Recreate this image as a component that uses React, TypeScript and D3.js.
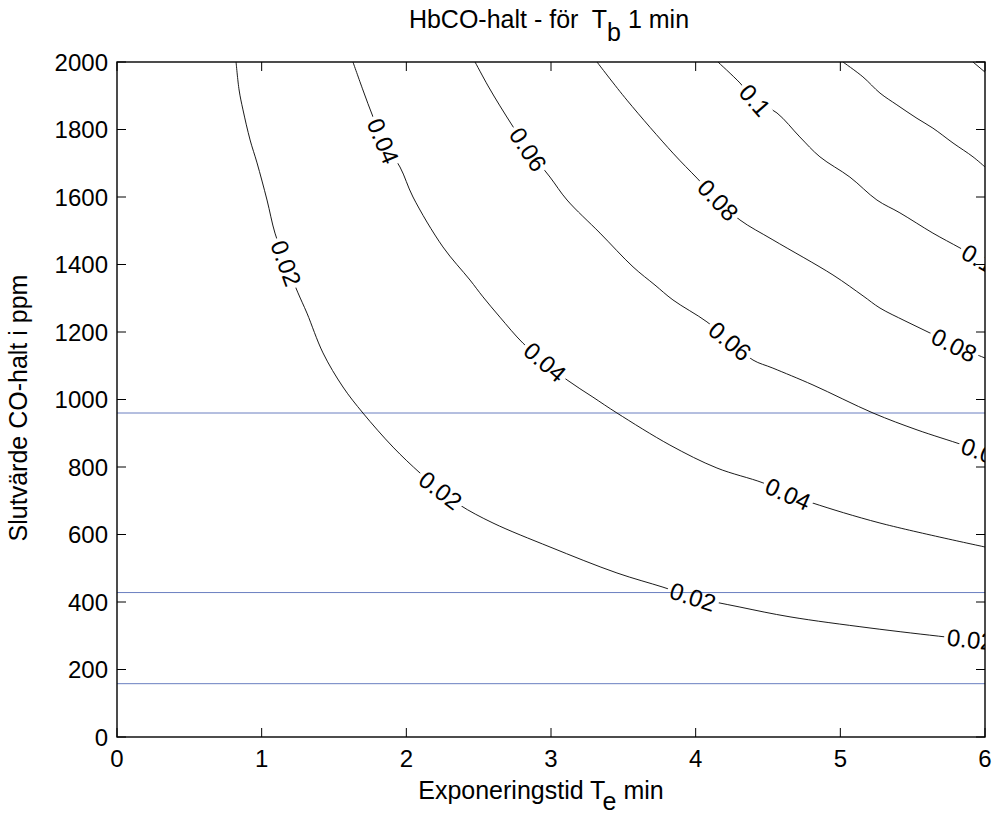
import React from 'react';
import * as d3 from 'd3';

type Pt = [number, number];

// Axis ticks
const xTickValues = [0, 1, 2, 3, 4, 5, 6];
const yTickValues = [0, 200, 400, 600, 800, 1000, 1200, 1400, 1600, 1800, 2000];

// Contour levels (HbCO fraction)
const levels = [0.02, 0.04, 0.06, 0.08, 0.1, 0.12, 0.14];

// Contour lines: [Te (min), CO (ppm)]
const contour002: Pt[] = [
  [0.823, 2000], [0.844, 1917], [0.871, 1858], [0.92, 1769], [0.968, 1701], [1.037, 1591], [1.092, 1493],
  [1.168, 1404], [1.251, 1316], [1.313, 1256], [1.424, 1138], [1.562, 1037], [1.7, 960],
  [1.908, 859], [2.095, 782], [2.233, 732], [2.371, 687], [2.599, 634], [2.993, 563],
  [3.456, 486], [3.774, 444], [3.981, 415], [4.306, 385], [4.652, 356],
  [5.205, 323], [5.737, 296], [6.0, 284],
];
const contour004: Pt[] = [
  [1.631, 2000], [1.7, 1917], [1.77, 1837], [1.839, 1766], [1.956, 1689], [2.046, 1600],
  [2.253, 1452], [2.44, 1354], [2.53, 1304], [2.647, 1244], [2.806, 1167], [2.958, 1111],
  [3.111, 1058], [3.29, 1007], [3.456, 960], [3.822, 865], [4.147, 797], [4.465, 753],
  [4.638, 720], [4.811, 693], [5.274, 634], [6.0, 563],
];
const contour006: Pt[] = [
  [2.475, 2000], [2.565, 1929], [2.647, 1870], [2.744, 1804], [2.841, 1741], [2.993, 1659], [3.111, 1591],
  [3.339, 1493], [3.567, 1393], [3.719, 1339], [3.843, 1295], [4.078, 1230], [4.237, 1173],
  [4.396, 1117], [4.534, 1093], [4.811, 1043], [5.226, 960], [5.53, 910], [5.848, 865],
  [6.0, 841],
];
const contour008: Pt[] = [
  [3.318, 2000], [3.525, 1887], [3.843, 1730], [4.009, 1656], [4.154, 1591], [4.306, 1532],
  [4.534, 1473], [4.949, 1369], [5.157, 1307], [5.274, 1271], [5.447, 1233], [5.62, 1197], [5.786, 1161],
  [6.0, 1123],
];
const contour010: Pt[] = [
  [4.154, 2000], [4.306, 1938], [4.41, 1887], [4.562, 1849], [4.72, 1778], [4.859, 1719], [5.066, 1659], [5.253, 1591],
  [5.412, 1553], [5.64, 1493], [5.827, 1449], [6.0, 1407],
];
const contour012: Pt[] = [
  [5.018, 2000], [5.156, 1956], [5.274, 1908], [5.391, 1873], [5.53, 1833], [5.64, 1804], [5.779, 1760],
  [5.917, 1719], [6.0, 1689],
];
const contour014: Pt[] = [
  [5.917, 2000], [6.0, 1970],
];
const contourLines: Pt[][] = [contour002, contour004, contour006, contour008, contour010, contour012, contour014];

// Inline label anchors per level
const labels002: Pt[] = [[1.168, 1404], [2.233, 729], [3.981, 415], [5.896, 276]];
const labels004: Pt[] = [[1.839, 1766], [2.958, 1111], [4.638, 720]];
const labels006: Pt[] = [[2.841, 1741], [4.237, 1173], [5.993, 841]];
const labels008: Pt[] = [[4.154, 1591], [5.786, 1161]];
const labels010: Pt[] = [[4.41, 1887], [5.952, 1418]];
const labels012: Pt[] = [];
const labels014: Pt[] = [];
const contourLabels: Pt[][] = [labels002, labels004, labels006, labels008, labels010, labels012, labels014];

// Horizontal reference lines (ppm)
const refLines = [960, 428, 158];

const FONT = '"Liberation Sans", Arial, Helvetica, sans-serif';
const L = 117, R = 985, T = 62, B = 737;

function textWidth(s: string, size: number): number {
  let w = 0;
  for (const ch of s) w += ch === '.' ? 0.278 : 0.556;
  return w * size;
}

export default function App() {
  const x = d3.scaleLinear().domain([0, 6]).range([L, R]);
  const y = d3.scaleLinear().domain([0, 2000]).range([B, T]);
  const line = d3.line<Pt>().x(d => x(d[0])).y(d => y(d[1])).curve(d3.curveCatmullRom.alpha(0.5));

  const labelSize = 24;
  const placed: { px: number; py: number; ang: number; text: string; w: number }[] = [];
  contourLabels.forEach((anchors, li) => {
    const pts = contourLines[li].map(p => [x(p[0]), y(p[1])] as Pt);
    const text = String(levels[li]);
    anchors.forEach(a => {
      const ax = x(a[0]), ay = y(a[1]);
      let best = { d: Infinity, px: ax, py: ay, ang: 0 };
      for (let i = 0; i < pts.length - 1; i++) {
        const [x1, y1] = pts[i], [x2, y2] = pts[i + 1];
        const dx = x2 - x1, dy = y2 - y1;
        const len2 = dx * dx + dy * dy;
        let t = len2 > 0 ? ((ax - x1) * dx + (ay - y1) * dy) / len2 : 0;
        t = Math.max(0, Math.min(1, t));
        const px = x1 + t * dx, py = y1 + t * dy;
        const d = Math.hypot(ax - px, ay - py);
        if (d < best.d) {
          let ang = (Math.atan2(dy, dx) * 180) / Math.PI;
          if (ang > 90) ang -= 180;
          if (ang < -90) ang += 180;
          best = { d, px, py, ang };
        }
      }
      placed.push({ px: best.px, py: best.py, ang: best.ang, text, w: textWidth(text, labelSize) });
    });
  });

  const tickLen = 9;

  return (
    <svg width={995} height={816} style={{ position: 'absolute', left: 0, top: 0, background: '#fff' }} fontFamily={FONT}>
      <defs>
        <clipPath id="plotClip">
          <rect x={L} y={T} width={R - L} height={B - T} />
        </clipPath>
        <mask id="labelGaps" maskUnits="userSpaceOnUse" x={0} y={0} width={995} height={816}>
          <rect x={0} y={0} width={995} height={816} fill="#fff" />
          {placed.map((p, i) => (
            <rect key={i} x={-p.w / 2 - 3} y={-7} width={p.w + 6} height={14} fill="#000"
              transform={`translate(${p.px},${p.py}) rotate(${p.ang})`} />
          ))}
        </mask>
      </defs>
      <rect x={0} y={0} width={995} height={816} fill="#fff" />

      {/* reference lines */}
      <g>
        {refLines.map((v, i) => (
          <line key={i} x1={L} x2={R} y1={y(v)} y2={y(v)} stroke="#6a7fc0" strokeWidth={1} />
        ))}
      </g>

      {/* contours */}
      <g clipPath="url(#plotClip)">
        <g mask="url(#labelGaps)">
          {contourLines.map((pts, i) => (
            <path key={i} d={line(pts) || ''} fill="none" stroke="#000" strokeWidth={0.9} />
          ))}
        </g>
        {placed.map((p, i) => (
          <text key={i} transform={`translate(${p.px},${p.py}) rotate(${p.ang})`} textAnchor="middle"
            dominantBaseline="central" fontSize={labelSize} fill="#000">{p.text}</text>
        ))}
      </g>

      {/* axes box */}
      <rect x={L} y={T} width={R - L} height={B - T} fill="none" stroke="#000" strokeWidth={1.4} />
      {xTickValues.map(t => (
        <g key={'x' + t}>
          <line x1={x(t)} x2={x(t)} y1={B} y2={B - tickLen} stroke="#000" strokeWidth={1} />
          <line x1={x(t)} x2={x(t)} y1={T} y2={T + tickLen} stroke="#000" strokeWidth={1} />
          <text x={x(t)} y={767} textAnchor="middle" fontSize={24} fill="#000">{t}</text>
        </g>
      ))}
      {yTickValues.map(t => (
        <g key={'y' + t}>
          <line x1={L} x2={L + tickLen} y1={y(t)} y2={y(t)} stroke="#000" strokeWidth={1} />
          <line x1={R} x2={R - tickLen} y1={y(t)} y2={y(t)} stroke="#000" strokeWidth={1} />
          <text x={108} y={y(t) + 8.5} textAnchor="end" fontSize={24} fill="#000">{t}</text>
        </g>
      ))}

      {/* title */}
      <text x={549} y={28} textAnchor="middle" fontSize={25} fill="#000" style={{ whiteSpace: 'pre' }}>
        {'HbCO-halt - för  T'}
        <tspan dy={13}>b</tspan>
        <tspan dy={-13}>{' 1 min'}</tspan>
      </text>

      {/* x label */}
      <text x={541} y={799} textAnchor="middle" fontSize={25} fill="#000" style={{ whiteSpace: 'pre' }}>
        {'Exponeringstid T'}
        <tspan dy={11}>e</tspan>
        <tspan dy={-11}>{' min'}</tspan>
      </text>

      {/* y label */}
      <text transform="translate(27,408) rotate(-90)" textAnchor="middle" fontSize={25} fill="#000">
        Slutvärde CO-halt i ppm
      </text>
    </svg>
  );
}
